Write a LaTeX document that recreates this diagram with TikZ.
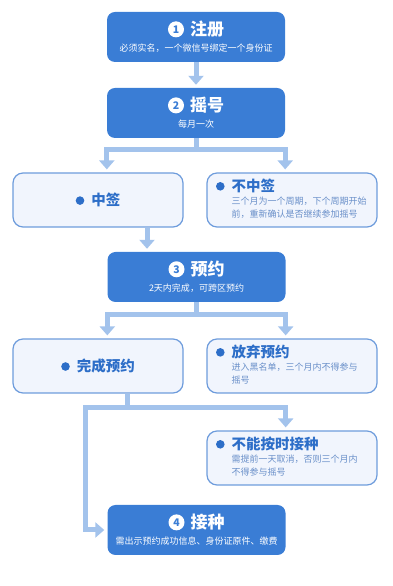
\documentclass[tikz,border=0pt]{standalone}
\usepackage{fontspec}
\setmainfont{Noto Sans CJK SC}
\usetikzlibrary{arrows.meta,calc}
\definecolor{stepblue}{RGB}{58,125,213}
\definecolor{paleblue}{RGB}{241,245,253}
\definecolor{edgeblue}{RGB}{110,156,220}
\definecolor{flowblue}{RGB}{163,195,236}
\definecolor{headblue}{RGB}{45,110,200}
\definecolor{noteblue}{RGB}{105,143,201}
\newcommand{\stepfont}{\bfseries\fontsize{17}{19}\selectfont}
\newcommand{\headfont}{\bfseries\fontsize{14.5}{16}\selectfont}
\newcommand{\notefont}{\fontsize{9}{13}\selectfont}
\newcommand{\stepno}[1]{\tikz[baseline={([yshift=-6.5pt]n.center)}]\node[circle, fill=white, text=stepblue, inner sep=0pt, minimum size=16pt, font=\bfseries\fontsize{10.5}{10.5}\selectfont] (n) {#1};}
\newcommand{\dotmark}{\tikz[baseline=-5pt]\fill[headblue] (0,0) circle (4.3pt);}
\begin{document}
\begin{tikzpicture}[x=1pt, y=1pt,
  darkbox/.style={rectangle, rounded corners=8pt, fill=stepblue, text=white, minimum width=178pt, minimum height=50pt, align=center, inner sep=0pt},
  lightbox/.style={rectangle, rounded corners=10pt, fill=paleblue, draw=edgeblue, line width=1.2pt, minimum width=170pt, minimum height=54pt, inner sep=0pt, text=headblue},
  lightnote/.style={lightbox, text width=152pt, align=left, font=\notefont},
  flow/.style={line width=5pt, draw=flowblue, -{Triangle[width=15pt,length=9pt]}, shorten >=3pt},
  link/.style={line width=5pt, draw=flowblue}]
  \useasboundingbox (0,0) rectangle (392,586);
  % steps
  \node[darkbox] (reg) at (196,549) {{\stepfont\stepno{1}\hspace{6pt}注册}\\[4pt]{\notefont 必须实名，一个微信号绑定一个身份证}};
  \node[darkbox] (lot) at (196,473) {{\stepfont\stepno{2}\hspace{6pt}摇号}\\[4pt]{\notefont 每月一次}};
  \node[darkbox] (book) at (196.5,309) {{\stepfont\stepno{3}\hspace{6pt}预约}\\[4pt]{\notefont 2天内完成，可跨区预约}};
  \node[darkbox] (shot) at (196.5,56) {{\stepfont\stepno{4}\hspace{6pt}接种}\\[4pt]{\notefont 需出示预约成功信息、身份证原件、缴费}};
  % outcomes
  \node[lightbox, font=\headfont] (win) at (98,386) {\dotmark\hspace{7pt}中签};
  \node[lightnote] (lose) at (292,386) {\begin{tabular}{@{}c@{\hspace{7pt}}l@{}}\dotmark & {\headfont 不中签}\\ & \color{noteblue}三个月为一个周期，下个周期开始\\ & \color{noteblue}前，重新确认是否继续参加摇号\end{tabular}};
  \node[lightbox, font=\headfont] (done) at (98,220) {\dotmark\hspace{7pt}完成预约};
  \node[lightnote] (quit) at (292,220) {\begin{tabular}{@{}c@{\hspace{7pt}}l@{}}\dotmark & {\headfont 放弃预约}\\ & \color{noteblue}进入黑名单，三个月内不得参与\\ & \color{noteblue}摇号\end{tabular}};
  \node[lightnote] (late) at (292,128) {\begin{tabular}{@{}c@{\hspace{7pt}}l@{}}\dotmark & {\headfont 不能按时接种}\\ & \color{noteblue}需提前一天取消，否则三个月内\\ & \color{noteblue}不得参与摇号\end{tabular}};
  % connectors
  \draw[flow] (reg) -- (lot);
  \coordinate (split1) at ($(lot.south)+(0,-11)$);
  \draw[link] (lot.south) -- (split1);
  \draw[flow] (split1) -| (win.north -| lot.south west);
  \draw[flow] (split1) -| (lose.north -| lot.south east);
  \coordinate (drop1) at ($(win.south)+(49,0)$);
  \draw[flow] (drop1) -- (drop1 |- book.north);
  \coordinate (split2) at ($(book.south)+(0,-12)$);
  \draw[link] (book.south) -- (split2);
  \draw[flow] (split2) -| (done.north -| book.south west);
  \draw[flow] (split2) -| (quit.north -| book.south east);
  \coordinate (drop2) at ($(done.south)+(29,0)$);
  \coordinate (split3) at ($(drop2)+(0,-14)$);
  \coordinate (bend) at ($(split3)+(-42,0)$);
  \draw[link] (drop2) -- (split3);
  \draw[flow] (split3) -| (late.north -| book.south east);
  \draw[flow] (split3) -- (bend) |- (shot.west);
\end{tikzpicture}
\end{document}
